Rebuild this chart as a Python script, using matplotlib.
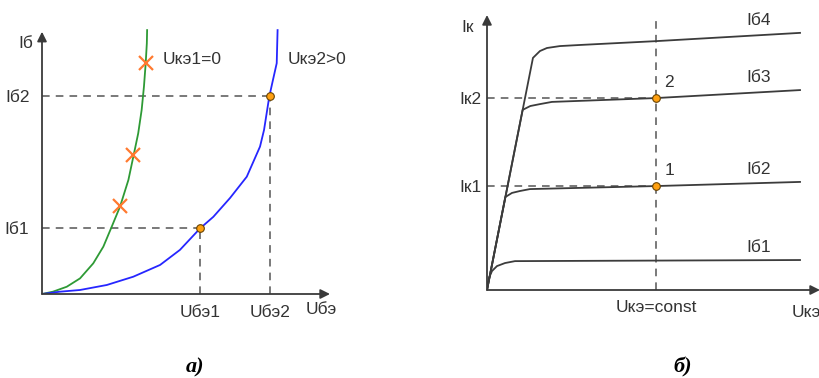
import numpy as np
import matplotlib.pyplot as plt

# --- panel a): input characteristics Iб(Uбэ) ---
green_u = [0, 0.038, 0.086, 0.132, 0.178, 0.213, 0.242, 0.271, 0.300, 0.317, 0.334, 0.346, 0.354, 0.360, 0.364, 0.365]
green_i = [0, 0.0086, 0.027, 0.058, 0.114, 0.176, 0.250, 0.325, 0.424, 0.510, 0.597, 0.684, 0.771, 0.857, 0.932, 0.981]
blue_u = [0, 0.0625, 0.132, 0.225, 0.317, 0.410, 0.479, 0.549, 0.595, 0.653, 0.711, 0.757, 0.771, 0.789, 0.802, 0.815, 0.818]
blue_i = [0, 0.0086, 0.0149, 0.0335, 0.0643, 0.108, 0.164, 0.244, 0.287, 0.357, 0.436, 0.548, 0.610, 0.733, 0.796, 0.858, 0.981]
cross_u = [0.271, 0.316, 0.361]
cross_i = [0.327, 0.517, 0.859]
op_u = [0.549, 0.792]          # Uбэ1, Uбэ2
op_i = [0.245, 0.736]          # Iб1, Iб2
a_xlabels = ['Uбэ1', 'Uбэ2']
a_ylabels = ['Iб1', 'Iб2']

# --- panel б): output characteristics Iк(Uкэ) ---
ib4_u = [0, 0.138, 0.159, 0.180, 0.219, 0.279, 0.508, 0.940]
ib4_i = [0, 0.844, 0.869, 0.880, 0.887, 0.891, 0.905, 0.935]
ib3_u = [0, 0.107, 0.130, 0.159, 0.195, 0.508, 0.940]
ib3_i = [0, 0.655, 0.669, 0.676, 0.684, 0.698, 0.727]
ib2_u = [0, 0.055, 0.075, 0.099, 0.129, 0.508, 0.940]
ib2_i = [0, 0.338, 0.353, 0.360, 0.367, 0.378, 0.393]
ib1_u = [0, 0.006, 0.015, 0.030, 0.054, 0.084, 0.940]
ib1_i = [0, 0.044, 0.069, 0.087, 0.098, 0.105, 0.109]
curve_names = ['Iб1', 'Iб2', 'Iб3', 'Iб4']
uce_const = 0.508
ik_points = [0.378, 0.698]     # Iк1, Iк2
b_ylabels = ['Iк1', 'Iк2']

plt.rcParams['font.family'] = ['Liberation Sans', 'DejaVu Sans']
W, H = 820, 378
fig = plt.figure(figsize=(W / 100, H / 100), dpi=100)

axis_col = '#3a3a3a'
dash_col = '#555555'
txt_col = '#333333'
fs = 12.5


def px_axes(x0, x1, y_top, y_bot):
    return fig.add_axes([x0 / W, 1 - y_bot / H, (x1 - x0) / W, (y_bot - y_top) / H])


def draw_arrows(ax, xend, yend):
    for s in ax.spines.values():
        s.set_visible(False)
    ax.annotate('', xy=(xend, 0), xytext=(0, 0), annotation_clip=False,
                arrowprops=dict(arrowstyle='-|>', color=axis_col, lw=1.3, mutation_scale=14, shrinkA=0, shrinkB=0))
    ax.annotate('', xy=(0, yend), xytext=(0, 0), annotation_clip=False,
                arrowprops=dict(arrowstyle='-|>', color=axis_col, lw=1.3, mutation_scale=14, shrinkA=0, shrinkB=0))


# ---------- a) ----------
ax1 = px_axes(42, 330, 25, 294)
ax1.set_xlim(0, 1)
ax1.set_ylim(0, 1)
draw_arrows(ax1, 1.0, 0.975)

for u, i in zip(op_u, op_i):
    ax1.plot([0, u], [i, i], color=dash_col, lw=1.1, dashes=(5, 4))
    ax1.plot([u, u], [0, i], color=dash_col, lw=1.1, dashes=(5, 4))

ax1.plot(green_u, green_i, color='#2e9a35', lw=1.3)
ax1.plot(blue_u, blue_i, color='#2626ff', lw=1.3)
ax1.plot(cross_u, cross_i, ls='none', marker='x', ms=10, mew=1.6, color='#ff7a30')
ax1.plot(op_u, op_i, ls='none', marker='o', ms=5.5, mfc='#ffa010', mec='#6b4300', mew=0.8, zorder=5)

ax1.set_xticks(op_u, a_xlabels)
ax1.set_yticks(op_i, a_ylabels)
ax1.tick_params(length=0, labelsize=fs, colors=txt_col, pad=8)
ax1.tick_params(axis='y', pad=9)
ax1.text(-0.03, 0.93, 'Iб', ha='right', va='center', fontsize=fs, color=txt_col)
ax1.text(0.97, -0.03, 'Uбэ', ha='center', va='top', fontsize=fs, color=txt_col)
ax1.text(0.42, 0.87, 'Uкэ1=0', ha='left', va='center', fontsize=fs, color=txt_col)
ax1.text(0.854, 0.87, 'Uкэ2>0', ha='left', va='center', fontsize=fs, color=txt_col)
ax1.patch.set_visible(False)

# ---------- б) ----------
ax2 = px_axes(487, 820, 15, 290)
ax2.set_xlim(0, 1)
ax2.set_ylim(0, 1)
draw_arrows(ax2, 1.0, 1.0)

ax2.plot([uce_const, uce_const], [0, 0.99], color=dash_col, lw=1.1, dashes=(5, 4))
for i in ik_points:
    ax2.plot([0, uce_const], [i, i], color=dash_col, lw=1.1, dashes=(5, 4))

curves = [(ib1_u, ib1_i), (ib2_u, ib2_i), (ib3_u, ib3_i), (ib4_u, ib4_i)]
for (u, i), name in zip(curves, curve_names):
    ax2.plot(u, i, color='#3c3c3c', lw=1.3)
    ax2.text(0.78, i[-1] + 0.045, name, ha='left', va='center', fontsize=fs, color=txt_col)

ax2.plot([uce_const] * 2, ik_points, ls='none', marker='o', ms=5.5, mfc='#ffa010', mec='#6b4300', mew=0.8, zorder=5)
for k, i in enumerate(ik_points):
    ax2.text(uce_const + 0.025, i + 0.03, str(k + 1), ha='left', va='bottom', fontsize=fs, color=txt_col)

ax2.set_xticks([uce_const], ['Uкэ=const'])
ax2.set_yticks(ik_points, b_ylabels)
ax2.tick_params(length=0, labelsize=fs, colors=txt_col, pad=7)
ax2.tick_params(axis='y', pad=4)
ax2.text(-0.04, 0.953, 'Iк', ha='right', va='center', fontsize=fs, color=txt_col)
ax2.text(0.915, -0.055, 'Uкэ', ha='left', va='top', fontsize=fs, color=txt_col)
ax2.patch.set_visible(False)

# captions
fig.text(195 / W, 1 - 367 / H, 'а)', ha='center', va='center', fontsize=16,
         family='Liberation Serif', weight='bold', style='italic')
fig.text(683 / W, 1 - 367 / H, 'б)', ha='center', va='center', fontsize=16,
         family='Liberation Serif', weight='bold', style='italic')

fig.savefig('out.png', dpi=100)
